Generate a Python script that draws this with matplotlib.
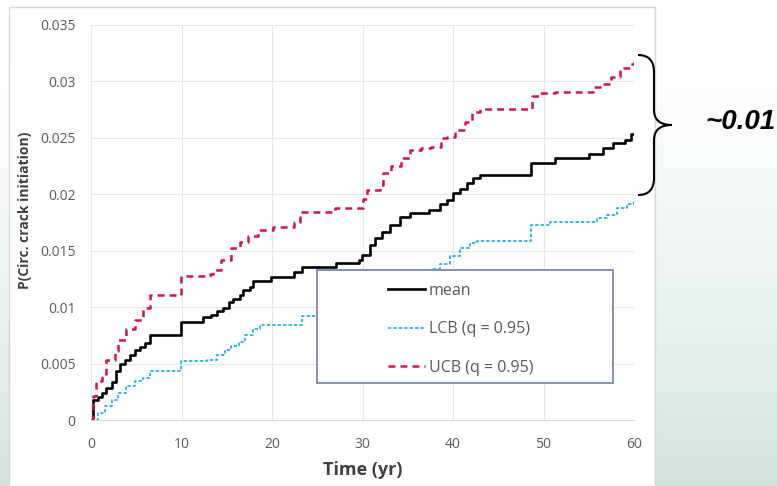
import numpy as np
import matplotlib
matplotlib.use("Agg")
import matplotlib.pyplot as plt
from matplotlib.patches import Rectangle, PathPatch
from matplotlib.path import Path

# step curves (time in yr, probability)
mean_t = [0, 0.26, 0.8, 1.2, 1.7, 2.3, 2.8, 3.2, 3.8, 4.3, 4.9, 5.4, 6.0, 6.5,
          9.9, 12.4, 13.3, 13.9, 14.6, 15.2, 15.7, 16.5, 16.8, 17.6, 17.9,
          19.9, 22.4, 23.3, 27.1, 29.6, 29.9, 30.8, 31.4, 32.1, 33.0, 34.1,
          35.2, 37.3, 38.6, 39.3, 40.0, 40.8, 41.5, 42.2, 43.0, 48.6, 51.3,
          55.0, 56.6, 57.7, 59.0, 59.7, 60.0]
mean_p = [0, 0.0018, 0.0020, 0.0024, 0.0028, 0.0034, 0.0043, 0.0050, 0.0053,
          0.0058, 0.0062, 0.0065, 0.0068, 0.0075,
          0.0087, 0.0091, 0.0093, 0.0097, 0.0099, 0.0105, 0.0107, 0.0111,
          0.0115, 0.0118, 0.0123,
          0.0127, 0.0131, 0.0136, 0.0139, 0.0142, 0.0146, 0.0155, 0.0161,
          0.0167, 0.0173, 0.0180,
          0.0183, 0.0186, 0.0191, 0.0195, 0.0201, 0.0205, 0.0210, 0.0214,
          0.0217, 0.0228, 0.0232,
          0.0236, 0.0241, 0.0245, 0.0248, 0.0253, 0.0253]

lcb_t = [0, 0.8, 1.5, 2.3, 3.0, 3.9, 4.9, 5.8, 6.5, 9.9, 12.8, 13.9, 14.8,
         15.5, 16.3, 17.0, 17.9, 18.7, 23.3, 27.2, 29.6, 30.5, 31.5, 32.5,
         33.5, 35.0, 37.0, 37.6, 38.6, 39.7, 40.8, 41.9, 42.6, 48.6, 50.7,
         55.9, 57.0, 58.1, 59.2, 60.0]
lcb_p = [0, 0.0006, 0.0012, 0.0018, 0.0024, 0.0030, 0.0035, 0.0037, 0.0043,
         0.0052, 0.0053, 0.0058, 0.0062,
         0.0066, 0.0069, 0.0075, 0.0081, 0.0084, 0.0092, 0.0095, 0.0100,
         0.0106, 0.0112, 0.0118,
         0.0124, 0.0128, 0.0131, 0.0134, 0.0138, 0.0145, 0.0152, 0.0157,
         0.0159, 0.0173, 0.0175,
         0.0179, 0.0182, 0.0188, 0.0191, 0.0194]

ucb_t = [0, 0.26, 0.6, 1.2, 1.7, 2.7, 3.0, 3.9, 4.9, 5.8, 6.5, 9.9, 13.1,
         13.5, 14.4, 15.5, 16.5, 17.4, 18.5, 20.1, 22.4, 23.1, 27.0, 30.0,
         30.5, 31.9, 32.3, 33.2, 34.3, 35.2, 36.5, 37.6, 38.7, 39.3, 40.2,
         41.3, 42.1, 43.0, 48.7, 49.6, 51.3, 55.5, 56.6, 57.5, 58.5, 59.6,
         60.0]
ucb_p = [0, 0.0021, 0.0035, 0.0041, 0.0053, 0.0061, 0.0071, 0.0081, 0.0089,
         0.0099, 0.0111, 0.0128, 0.0129,
         0.0133, 0.0142, 0.0152, 0.0158, 0.0163, 0.0168, 0.0171, 0.0175,
         0.0184, 0.0188, 0.0196,
         0.0204, 0.0208, 0.0219, 0.0225, 0.0232, 0.0239, 0.0241, 0.0242,
         0.0250, 0.0251, 0.0257,
         0.0264, 0.0273, 0.0276, 0.0287, 0.0290, 0.0291, 0.0295, 0.0298,
         0.0304, 0.0312, 0.0315,
         0.0317]

x_ticks = [0, 10, 20, 30, 40, 50, 60]
y_ticks = [0, 0.005, 0.01, 0.015, 0.02, 0.025, 0.03, 0.035]

W, H = 777, 486
plt.rcParams['font.family'] = ['Open Sans', 'DejaVu Sans']
plt.rcParams['lines.scale_dashes'] = False

fig = plt.figure(figsize=(W / 100, H / 100), dpi=100)

# slide background: white fading to pale teal, with a white card behind the chart
bg = fig.add_axes([0, 0, 1, 1], zorder=-10)
grad = np.linspace(0, 1, 256) ** 1.6
top = np.array([1.0, 1.0, 1.0])
bot = np.array([0.82, 0.89, 0.875])
img = top[None, :] * (1 - grad[:, None]) + bot[None, :] * grad[:, None]
bg.imshow(img[:, None, :], aspect='auto', extent=[0, 1, 0, 1], origin='upper')
bg.set_xlim(0, 1)
bg.set_ylim(0, 1)
bg.axis('off')
bg.add_patch(Rectangle((9 / W, 0), (655 - 9) / W, 1 - 7 / H, facecolor='white',
                       edgecolor='#d6d6d6', linewidth=1.0))

ax = fig.add_axes([91 / W, 1 - 420 / H, (634 - 91) / W, (420 - 25) / H])
ax.set_facecolor('none')

ax.step(mean_t, mean_p, where='post', color='black', linewidth=1.9,
        label='mean', zorder=3)
ax.step(lcb_t, lcb_p, where='post', color='#1fb6da', linewidth=1.3,
        dashes=(2.4, 1.5), label='LCB (q = 0.95)', zorder=3)
ax.step(ucb_t, ucb_p, where='post', color='#d0144c', linewidth=1.8,
        dashes=(5.0, 3.6), label='UCB (q = 0.95)', zorder=3)

ax.set_xlim(0, 60)
ax.set_ylim(0, 0.035)
ax.set_xticks(x_ticks)
ax.set_yticks(y_ticks)
ax.set_yticklabels([f'{v:g}' for v in y_ticks])
ax.tick_params(length=0, labelsize=10, labelcolor='#595959')
ax.tick_params(axis='y', pad=11)
ax.tick_params(axis='x', pad=12)
ax.grid(True, color='#e6e6e6', linewidth=0.8)
ax.set_axisbelow(True)
for side in ['top', 'right', 'left']:
    ax.spines[side].set_visible(False)
ax.spines['bottom'].set_color('#d9d9d9')

ax.set_xlabel('Time (yr)', fontsize=13, fontweight='bold', color='#404040')
ax.xaxis.set_label_coords(0.5, -(470 - 420) / (420 - 25))
ax.set_ylabel('P(Circ. crack initiation)', fontsize=10, fontweight='bold',
              color='#404040')
ax.yaxis.set_label_coords((25 - 91) / (634 - 91), (420 - 210) / (420 - 25))
ax.xaxis.label.set_va('center')
ax.yaxis.label.set_va('center')

# legend box (white, covers curves) and entries
ax.add_patch(Rectangle((317 / W, 1 - 383 / H), (613 - 317) / W, (383 - 270) / H,
                       transform=fig.transFigure, facecolor='white',
                       edgecolor='#7d88a8', linewidth=1.3, zorder=4,
                       clip_on=False))
leg = ax.legend(loc='upper left', bbox_to_anchor=(388 / W, 1 - 283 / H),
                bbox_transform=fig.transFigure, frameon=False, fontsize=11.5,
                handlelength=2.3, handletextpad=0.25, labelspacing=1.4,
                borderpad=0, borderaxespad=0, labelcolor='#595959')
leg.set_zorder(5)

# curly brace and annotation on the right
bx = lambda x: x / W
by = lambda y: 1 - y / H
verts = [(bx(638), by(55)), (bx(654), by(55)), (bx(654), by(72)),
         (bx(654), by(110)),
         (bx(654), by(125)), (bx(672), by(125)),
         (bx(654), by(125)), (bx(654), by(140)),
         (bx(654), by(178)),
         (bx(654), by(195)), (bx(638), by(195))]
codes = [Path.MOVETO, Path.CURVE3, Path.CURVE3, Path.LINETO,
         Path.CURVE3, Path.CURVE3,
         Path.CURVE3, Path.CURVE3, Path.LINETO,
         Path.CURVE3, Path.CURVE3]
fig.patches.append(PathPatch(Path(verts, codes), transform=fig.transFigure,
                             facecolor='none', edgecolor='black', linewidth=1.5))
fig.text(bx(705), by(122), '~0.01', fontsize=20, fontweight='bold',
         fontstyle='italic', family='Liberation Sans', va='center', ha='left')

fig.savefig('out.png', dpi=100)
